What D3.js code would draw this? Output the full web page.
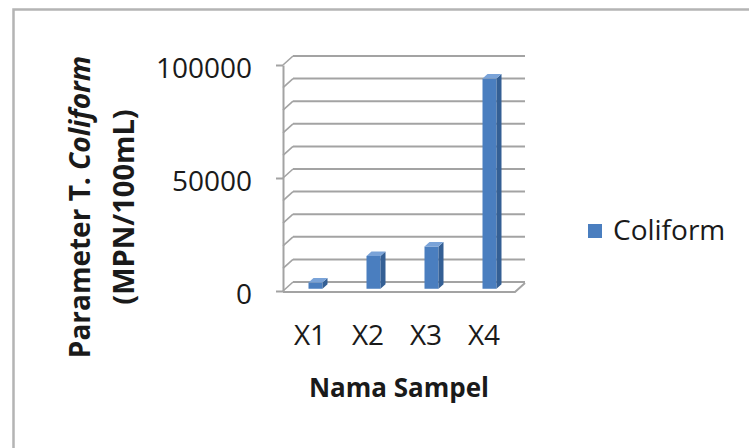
<!DOCTYPE html>
<html>
<head>
<meta charset="utf-8">
<script src="https://cdn.jsdelivr.net/npm/d3@7"></script>
<style>
  body { margin: 0; background: #fff; }
  text { font-family: "Open Sans", "Noto Sans", sans-serif; fill: #1a1a1a; }
</style>
</head>
<body>
<div id="chart"></div>
<script>
// Total coliform per sample (MPN/100mL)
const samples = ["X1", "X2", "X3", "X4"];
const coliform = [2800, 14500, 18700, 93000];
const yTicks = [0, 50000, 100000];
const gridValues = d3.range(0, 100001, 10000);
const seriesName = "Coliform";

const width = 749, height = 448;
const depth = { dx: 10, dy: -9 };   // 3D wall offset
const colors = {
  front: "#4a7ebf",
  side: "#345f94",
  top: "#7aa3d8",
  grid: "#a3a3a3",
  border: "#b4b4b4"
};

const svg = d3.select("#chart").append("svg")
  .attr("width", width)
  .attr("height", height);

// outer chart border (only left and top visible in the crop)
svg.append("path")
  .attr("d", "M13.5,448 V9.5 H749")
  .attr("fill", "none")
  .attr("stroke", colors.border)
  .attr("stroke-width", 2.5);

const x = d3.scaleBand().domain(samples).range([283, 515]);
const y = d3.scaleLinear().domain([0, 100000]).range([291, 65]);

const plot = svg.append("g");

// back wall gridlines
plot.append("g")
  .selectAll("line")
  .data(gridValues)
  .join("line")
  .attr("x1", x.range()[0] + depth.dx)
  .attr("x2", x.range()[1] + depth.dx)
  .attr("y1", d => y(d) + depth.dy)
  .attr("y2", d => y(d) + depth.dy)
  .attr("stroke", colors.grid)
  .attr("stroke-width", 2);

// side wall gridlines
plot.append("g")
  .selectAll("line")
  .data(gridValues)
  .join("line")
  .attr("x1", x.range()[0])
  .attr("x2", x.range()[0] + depth.dx)
  .attr("y1", d => y(d))
  .attr("y2", d => y(d) + depth.dy)
  .attr("stroke", colors.grid)
  .attr("stroke-width", 1.6);

// floor
const x0 = x.range()[0], x1 = x.range()[1], yz = y(0);
plot.append("path")
  .attr("d", `M${x0},${yz + 1}H${x1}L${x1 + depth.dx},${yz + 1 + depth.dy}`)
  .attr("fill", "none")
  .attr("stroke", colors.grid)
  .attr("stroke-width", 2);

// y axis
const yAxis = plot.append("g")
  .attr("transform", `translate(${x0},0)`)
  .call(d3.axisLeft(y).tickValues(yTicks).tickFormat(d3.format("d"))
    .tickSize(7).tickSizeOuter(0).tickPadding(24));
yAxis.select(".domain").attr("stroke", colors.grid).attr("stroke-width", 2);
yAxis.selectAll(".tick line").attr("stroke", colors.grid).attr("stroke-width", 2);
yAxis.selectAll(".tick text")
  .attr("dy", "0.45em")
  .style("font-size", "28px")
  .style("font-family", "'Open Sans', sans-serif")
  .attr("fill", "#1a1a1a");

// 3D columns
const barW = 14, t1 = 0.25, t2 = 0.75;
const bars = plot.append("g")
  .selectAll("g")
  .data(samples.map((s, i) => ({ s, v: coliform[i] })))
  .join("g");

const fx = d => x(d.s) + x.bandwidth() / 2 - barW / 2 + 1 + depth.dx * t1;
const fy = v => y(v) + depth.dy * t1;
const ddx = depth.dx * (t2 - t1), ddy = depth.dy * (t2 - t1);

bars.append("rect")
  .attr("x", fx)
  .attr("y", d => fy(d.v))
  .attr("width", barW)
  .attr("height", d => fy(0) - fy(d.v))
  .attr("fill", colors.front);

bars.append("path")
  .attr("d", d => {
    const l = fx(d) + barW, t = fy(d.v), b = fy(0);
    return `M${l},${t}L${l + ddx},${t + ddy}L${l + ddx},${b + ddy}L${l},${b}Z`;
  })
  .attr("fill", colors.side);

bars.append("path")
  .attr("d", d => {
    const l = fx(d), t = fy(d.v);
    return `M${l},${t}L${l + ddx},${t + ddy}L${l + barW + ddx},${t + ddy}L${l + barW},${t}Z`;
  })
  .attr("fill", colors.top);

// x axis labels
const xAxis = plot.append("g")
  .attr("transform", `translate(-2,${yz})`)
  .call(d3.axisBottom(x).tickSize(0));
xAxis.select(".domain").remove();
xAxis.selectAll(".tick text")
  .attr("y", 54)
  .attr("dy", 0)
  .style("font-size", "28px")
  .style("font-family", "'Open Sans', sans-serif")
  .attr("fill", "#1a1a1a");

// axis titles
svg.append("text")
  .attr("x", 399)
  .attr("y", 397)
  .attr("text-anchor", "middle")
  .style("font-size", "26px")
  .style("font-weight", "bold")
  .text("Nama Sampel");

const yTitle = svg.append("text")
  .attr("transform", "translate(90,207) rotate(-90)")
  .attr("text-anchor", "middle")
  .style("font-size", "28px")
  .style("font-weight", "bold");
yTitle.append("tspan").text("Parameter T. ");
yTitle.append("tspan").style("font-style", "italic").text("Coliform");

svg.append("text")
  .attr("transform", "translate(134,207) rotate(-90)")
  .attr("text-anchor", "middle")
  .style("font-size", "29px")
  .style("font-weight", "bold")
  .text("(MPN/100mL)");

// legend
const legend = svg.append("g").attr("transform", "translate(588,224)");
legend.append("rect")
  .attr("width", 14)
  .attr("height", 14)
  .attr("fill", colors.front);
legend.append("text")
  .attr("x", 25)
  .attr("y", 16)
  .style("font-size", "28px")
  .text(seriesName);
</script>
</body>
</html>
